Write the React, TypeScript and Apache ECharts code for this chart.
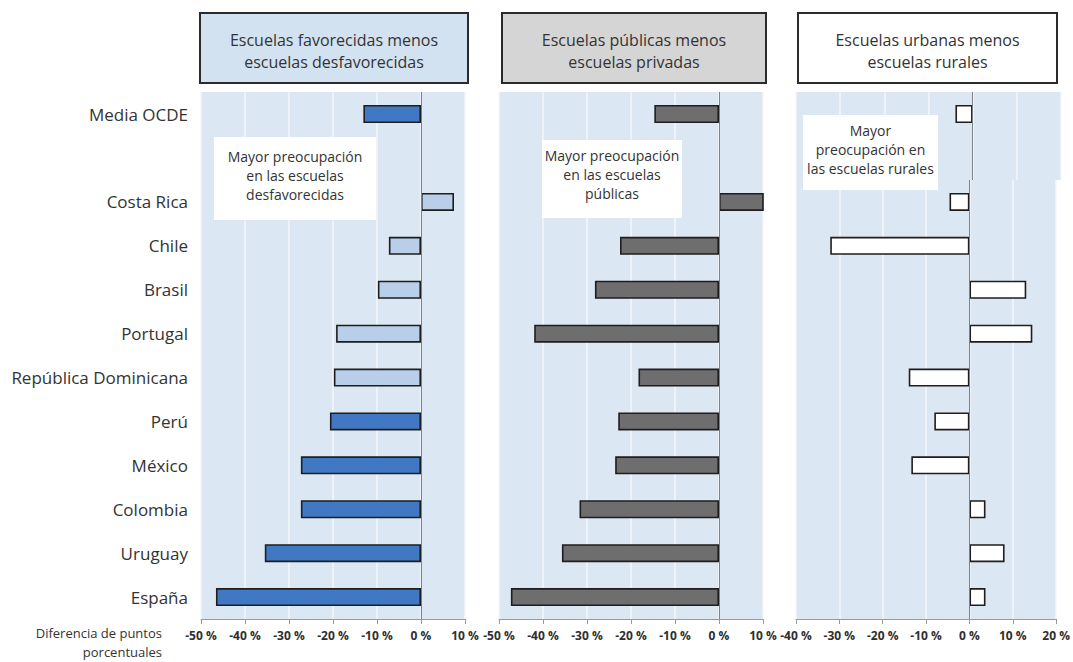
import React, { useEffect, useRef } from "react";
import * as echarts from "echarts";

const oecdLabel = "Media OCDE";
const countries = [
  "Costa Rica",
  "Chile",
  "Brasil",
  "Portugal",
  "República Dominicana",
  "Perú",
  "México",
  "Colombia",
  "Uruguay",
  "España",
];

// Panel 1: favoured minus disadvantaged schools
const advOecd = -13.1;
const advValues = [7.5, -7.3, -9.8, -19.3, -19.8, -20.7, -27.3, -27.3, -35.5, -46.6];
const advStrong = [false, false, false, false, false, true, true, true, true, true];

// Panel 2: public minus private schools
const pubOecd = -14.7;
const pubValues = [10.5, -22.5, -28.2, -42.0, -18.3, -22.9, -23.6, -31.7, -35.7, -47.3];

// Panel 3: urban minus rural schools
const urbOecd = -3.9;
const urbValues = [-4.6, -32.1, 13.1, 14.5, -14.0, -8.1, -13.4, 3.7, 8.1, 3.7];

const headerTexts = [
  "Escuelas favorecidas menos\nescuelas desfavorecidas",
  "Escuelas públicas menos\nescuelas privadas",
  "Escuelas urbanas menos\nescuelas rurales",
];
const noteTexts = [
  "Mayor preocupación\nen las escuelas\ndesfavorecidas",
  "Mayor preocupación\nen las escuelas\npúblicas",
  "Mayor\npreocupación en\nlas escuelas rurales",
];
const axisTitle = "Diferencia de puntos\nporcentuales";
const xRanges = [
  [-50, 10],
  [-50, 10],
  [-40, 20],
];

const FONT = '"Open Sans", "Noto Sans", sans-serif';
const BG = "#dbe7f3";
const DARK_BLUE = "#4178c3";
const LIGHT_BLUE = "#b9cfe9";
const GRAY = "#6e6e6e";
const WHITE = "#ffffff";

export default function App() {
  const ref = useRef<HTMLDivElement>(null);

  useEffect(() => {
    if (!ref.current) return;
    const chart = echarts.init(ref.current, undefined, { renderer: "svg" });

    const panels = [
      { left: 201, width: 264 },
      { left: 499, width: 264 },
      { left: 796, width: 265 },
    ];

    const grids: any[] = [];
    const xAxes: any[] = [];
    const yAxes: any[] = [];
    const series: any[] = [];

    const colorFor = (p: number, idx: number, isOecd: boolean) => {
      if (p === 0) {
        if (isOecd) return DARK_BLUE;
        return advStrong[idx] ? DARK_BLUE : LIGHT_BLUE;
      }
      if (p === 1) return GRAY;
      return WHITE;
    };

    const oecdVals = [advOecd, pubOecd, urbOecd];
    const vals = [advValues, pubValues, urbValues];

    panels.forEach((pn, p) => {
      grids.push({
        left: pn.left,
        width: pn.width,
        top: 92,
        height: 88,
        show: true,
        backgroundColor: BG,
        borderWidth: 0,
      });
      grids.push({
        left: pn.left,
        width: pn.width,
        top: 180,
        height: 439,
        show: true,
        backgroundColor: BG,
        borderWidth: 0,
      });
      const gTop = p * 2;
      const gBot = p * 2 + 1;
      const [mn, mx] = xRanges[p];
      const splitLine = { show: true, lineStyle: { color: "#f3f7fb", width: 1.5 } };
      xAxes.push({
        type: "value",
        gridIndex: gTop,
        min: mn,
        max: mx,
        interval: 10,
        axisLine: { show: false },
        axisTick: { show: false },
        axisLabel: { show: false },
        splitLine,
      });
      xAxes.push({
        type: "value",
        gridIndex: gBot,
        min: mn,
        max: mx,
        interval: 10,
        axisLine: { show: true, onZero: false, lineStyle: { color: "#9a9a9a", width: 1 } },
        axisTick: { show: true, length: 5, lineStyle: { color: "#9a9a9a" } },
        axisLabel: {
          show: true,
          formatter: "{value} %",
          color: "#2e2e2e",
          fontSize: 12,
          fontWeight: "bold",
          fontFamily: FONT,
          margin: 10,
          hideOverlap: false,
        },
        splitLine,
      });
      const yLabel = {
        show: p === 0,
        color: "#333",
        fontSize: 17,
        fontFamily: FONT,
        margin: 13,
      };
      yAxes.push({
        type: "category",
        gridIndex: gTop,
        inverse: true,
        data: [oecdLabel, ""],
        axisLine: { show: false },
        axisTick: { show: false },
        axisLabel: yLabel,
        splitLine: { show: false },
      });
      yAxes.push({
        type: "category",
        gridIndex: gBot,
        inverse: true,
        data: countries,
        axisLine: { show: false },
        axisTick: { show: false },
        axisLabel: yLabel,
        splitLine: { show: false },
      });

      const markLine = {
        silent: true,
        symbol: ["none", "none"],
        label: { show: false },
        lineStyle: { color: "#808080", width: 1, type: "solid" },
        data: [{ xAxis: 0 }],
      };
      const itemBase = { borderColor: "#1e1e1e", borderWidth: 1.6 };

      series.push({
        type: "bar",
        xAxisIndex: gTop,
        yAxisIndex: gTop,
        barWidth: 18,
        data: [
          { value: oecdVals[p], itemStyle: { ...itemBase, color: colorFor(p, -1, true) } },
          null,
        ],
        markLine,
      });
      series.push({
        type: "bar",
        xAxisIndex: gBot,
        yAxisIndex: gBot,
        barWidth: 18,
        data: vals[p].map((v, i) => ({
          value: v,
          itemStyle: { ...itemBase, color: colorFor(p, i, false) },
        })),
        markLine,
      });
    });

    const headerBoxes = [
      { x: 200, w: 268, fill: "#d3e2f1" },
      { x: 502, w: 264, fill: "#d5d5d5" },
      { x: 798, w: 259, fill: "#ffffff" },
    ];
    const noteBoxes = [
      { x: 214, y: 137, w: 162, h: 83, cy: 175 },
      { x: 542, y: 140, w: 140, h: 78, cy: 174 },
      { x: 803, y: 115, w: 135, h: 75, cy: 149 },
    ];

    const graphics: any[] = [];
    headerBoxes.forEach((h, i) => {
      graphics.push({
        type: "rect",
        z: 1,
        shape: { x: h.x, y: 13, width: h.w, height: 70 },
        style: { fill: h.fill, stroke: "#2b2b2b", lineWidth: 2 },
      });
      graphics.push({
        type: "text",
        z: 2,
        x: h.x + h.w / 2,
        y: 51,
        style: {
          text: headerTexts[i],
          fill: "#333",
          font: `16px ${FONT}`,
          lineHeight: 22,
          align: "center",
          verticalAlign: "middle",
          textAlign: "center",
          textVerticalAlign: "middle",
        },
      });
    });
    noteBoxes.forEach((b, i) => {
      graphics.push({
        type: "rect",
        z: 1,
        shape: { x: b.x, y: b.y, width: b.w, height: b.h },
        style: { fill: "#ffffff", lineWidth: 0 },
      });
      graphics.push({
        type: "text",
        z: 1,
        x: b.x + b.w / 2,
        y: b.cy,
        style: {
          text: noteTexts[i],
          fill: "#333",
          font: `14px ${FONT}`,
          lineHeight: 19,
          align: "center",
          verticalAlign: "middle",
          textAlign: "center",
          textVerticalAlign: "middle",
        },
      });
    });
    graphics.push({
      type: "text",
      z: 1,
      x: 162,
      y: 642,
      style: {
        text: axisTitle,
        fill: "#333",
        font: `13px ${FONT}`,
        lineHeight: 19,
        align: "right",
        verticalAlign: "middle",
        textAlign: "right",
        textVerticalAlign: "middle",
      },
    });

    chart.setOption({
      animation: false,
      backgroundColor: "#ffffff",
      grid: grids,
      xAxis: xAxes,
      yAxis: yAxes,
      series,
      graphic: graphics,
    });

    return () => chart.dispose();
  }, []);

  return (
    <div
      ref={ref}
      style={{ position: "fixed", left: 0, top: 0, width: 1073, height: 662 }}
    />
  );
}
